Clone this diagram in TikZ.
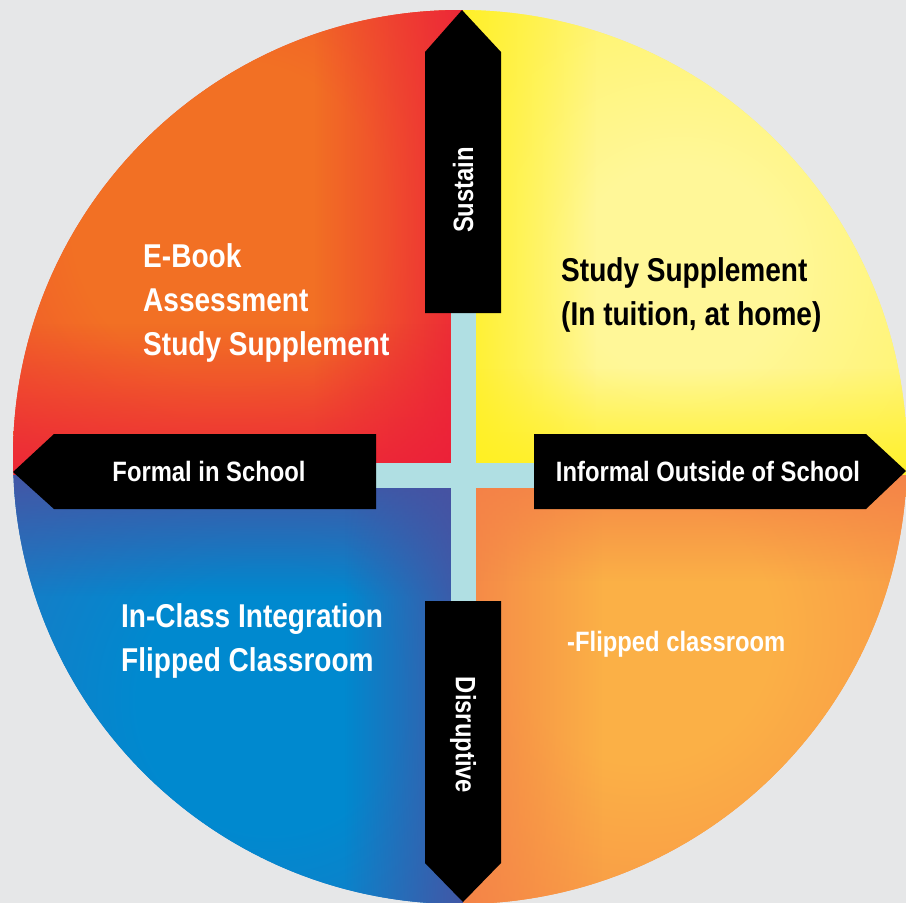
\documentclass[tikz,border=0pt]{standalone}
\usepackage{fontspec}
\setmainfont{Liberation Sans}
\newfontfamily\condfont[FakeStretch=0.85]{Liberation Sans}
\usepackage{tikz}
\usetikzlibrary{fadings}
\usepackage{xcolor}
\definecolor{bggray}{RGB}{230, 231, 232}
\definecolor{crosscyan}{RGB}{176, 223, 227}
\definecolor{warmorange}{RGB}{242, 112, 36}
\definecolor{redorange}{RGB}{240, 80, 45}
\definecolor{hotred}{RGB}{236, 30, 58}
\definecolor{paleyellow}{RGB}{255, 247, 152}
\definecolor{midyellow}{RGB}{255, 243, 100}
\definecolor{brightyellow}{RGB}{255, 240, 30}
\definecolor{lightorange}{RGB}{251, 176, 70}
\definecolor{midorange}{RGB}{248, 150, 70}
\definecolor{coralorange}{RGB}{244, 128, 72}
\definecolor{brightblue}{RGB}{0, 137, 207}
\definecolor{midblue}{RGB}{30, 120, 195}
\definecolor{violetblue}{RGB}{74, 80, 160}

% quadrant glows (25bp = edge of the shaded circle)
\pgfdeclareradialshading{formalglow}{\pgfpoint{0bp}{0bp}}{%
  color(0bp)=(warmorange); color(12bp)=(warmorange); color(25bp)=(redorange); color(50bp)=(redorange)}
\pgfdeclareradialshading{informalglow}{\pgfpoint{0bp}{0bp}}{%
  color(0bp)=(paleyellow); color(8bp)=(paleyellow); color(25bp)=(midyellow); color(50bp)=(midyellow)}
\pgfdeclareradialshading{classglow}{\pgfpoint{0bp}{0bp}}{%
  color(0bp)=(brightblue); color(10bp)=(brightblue); color(25bp)=(midblue); color(50bp)=(midblue)}
\pgfdeclareradialshading{flipglow}{\pgfpoint{0bp}{0bp}}{%
  color(0bp)=(lightorange); color(10bp)=(lightorange); color(25bp)=(midorange); color(50bp)=(midorange)}

% edge fadings (opaque on the named side)
\tikzfading[name=fade to east, left color=transparent!100, right color=transparent!0]
\tikzfading[name=fade to west, left color=transparent!0, right color=transparent!100]
\tikzfading[name=fade to north, bottom color=transparent!100, top color=transparent!0]
\tikzfading[name=fade to south, top color=transparent!100, bottom color=transparent!0]

\tikzset{
    quad label/.style={
        font=\condfont\bfseries\fontsize{33}{44}\selectfont,
        text=white,
        align=left,
        anchor=west,
        inner sep=0pt
    },
    small quad label/.style={
        quad label,
        font=\condfont\bfseries\fontsize{28}{34}\selectfont
    },
    arrow label/.style={
        font=\condfont\bfseries\fontsize{28}{32}\selectfont,
        text=white,
        inner sep=0pt
    },
    arrow shape/.style={
        fill=black
    },
    cross bar/.style={
        fill=crosscyan
    }
}

\begin{document}
\begin{tikzpicture}[x=1pt, y=-1pt]

% Background
\fill[bggray] (0,0) rectangle (906,903);
\useasboundingbox (0,0) rectangle (906,903);

% === QUADRANTS ===
\begin{scope}
    \clip (460,457) circle (447pt);

    % Formal / Sustain
    \begin{scope}
        \clip (0,0) rectangle (463,475);
        \fill[redorange] (0,0) rectangle (463,475);
        \shade[shading=formalglow] (230,220) circle (330pt);
        \fill[hotred, path fading=fade to east] (314,0) rectangle (496,475);
        \fill[hotred, path fading=fade to south] (0,323) rectangle (463,509);
    \end{scope}

    % Informal / Sustain
    \begin{scope}
        \clip (463,0) rectangle (906,475);
        \fill[midyellow] (463,0) rectangle (906,475);
        \shade[shading=informalglow] (680,270) circle (330pt);
        \fill[brightyellow, path fading=fade to west] (436,0) rectangle (596,475);
        \fill[brightyellow, path fading=fade to south] (463,368) rectangle (906,494);
    \end{scope}

    % Formal / Disruptive
    \begin{scope}
        \clip (0,475) rectangle (463,903);
        \fill[midblue] (0,475) rectangle (463,903);
        \shade[shading=classglow] (270,700) circle (330pt);
        \fill[violetblue, path fading=fade to north] (0,452) rectangle (463,596);
        \fill[violetblue, path fading=fade to east] (344,475) rectangle (486,903);
    \end{scope}

    % Informal / Disruptive
    \begin{scope}
        \clip (463,475) rectangle (906,903);
        \fill[midorange] (463,475) rectangle (906,903);
        \shade[shading=flipglow] (640,630) circle (330pt);
        \fill[coralorange, path fading=fade to west] (434,475) rectangle (602,903);
        \fill[coralorange, path fading=fade to north] (463,457) rectangle (906,581);
    \end{scope}
\end{scope}

% === CROSS ===
\fill[cross bar] (451,300) rectangle (476,620);
\fill[cross bar] (360,463) rectangle (550,488);

% === ARROWS ===
\fill[arrow shape] (425,313) -- (425,52) -- (462,10) -- (501,52) -- (501,313) -- cycle;
\fill[arrow shape] (425,601) -- (425,863) -- (463,902) -- (501,863) -- (501,601) -- cycle;
\fill[arrow shape] (376,434) -- (54,434) -- (13,472) -- (54,509) -- (376,509) -- cycle;
\fill[arrow shape] (534,434) -- (866,434) -- (906,471) -- (866,509) -- (534,509) -- cycle;

\node[arrow label, rotate=90] (sustain) at (463,190) {Sustain};
\node[arrow label, rotate=-90] (disruptive) at (463,735) {Disruptive};
\node[arrow label] (formal) at (209,471) {Formal in School};
\node[arrow label] (informal) at (708,471) {Informal Outside of School};

% === QUADRANT TEXT ===
\node[quad label] (formal_tools) at (143,303) {E-Book\\Assessment\\Study Supplement};
\node[quad label, text=black] (informal_tools) at (561,295) {Study Supplement\\(In tuition, at home)};
\node[quad label] (class_tools) at (121,641) {In-Class Integration\\Flipped Classroom};
\node[small quad label] (flip_tools) at (567,644) {-Flipped classroom};

\end{tikzpicture}
\end{document}
